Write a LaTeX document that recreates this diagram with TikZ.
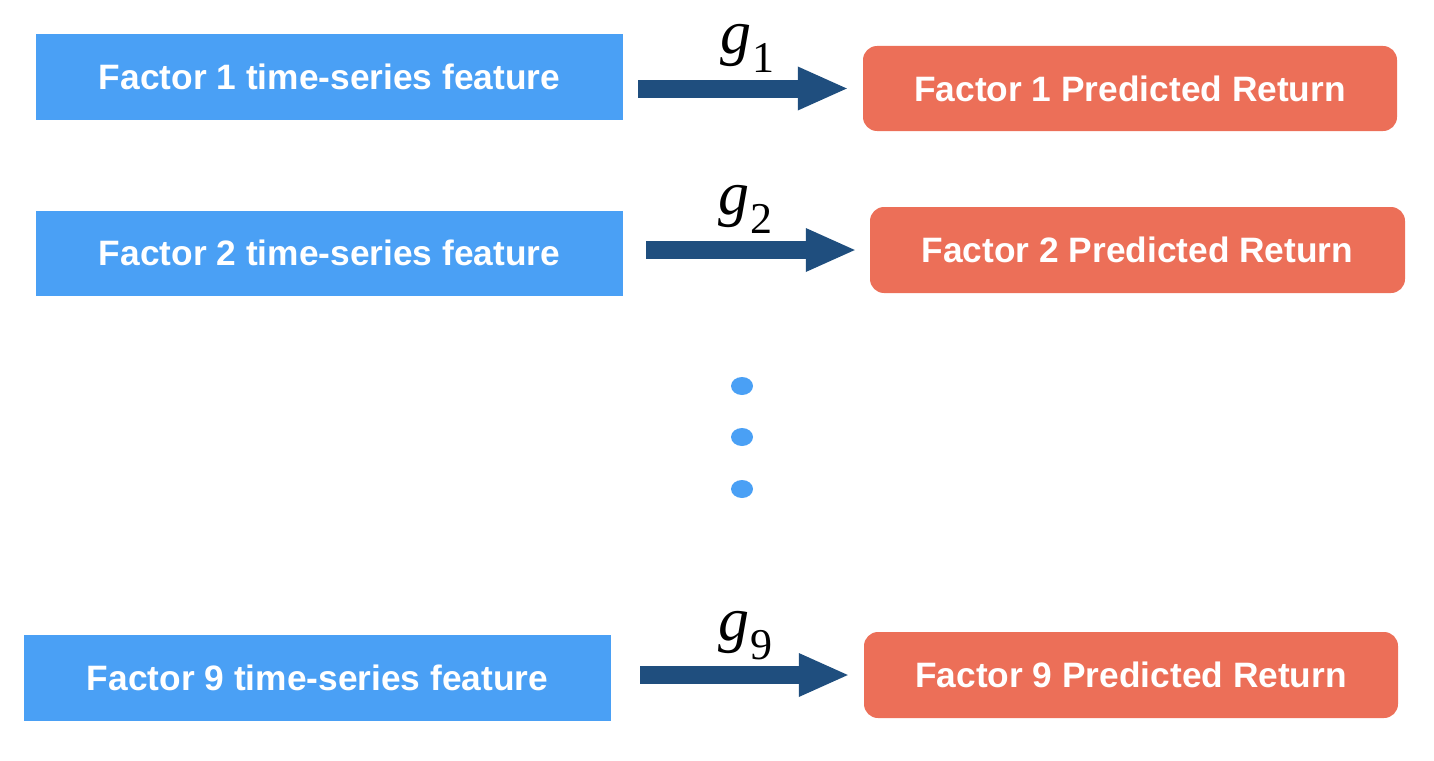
\documentclass[tikz,border=0pt]{standalone}
\usepackage{fontspec}
\newfontfamily\boxfont{Liberation Sans}
\newfontfamily\gfont{Liberation Serif}
\usetikzlibrary{arrows.meta,shapes.geometric}
\definecolor{featblue}{HTML}{4AA0F5}
\definecolor{retred}{HTML}{EC6F58}
\definecolor{arrowblue}{HTML}{1F4E7E}
\tikzset{
  featbox/.style={rectangle, fill=featblue, minimum width=587pt, minimum height=85pt, inner sep=0pt,
    text=white, font=\boxfont\bfseries\fontsize{35.3}{40}\selectfont},
  retbox/.style={rectangle, rounded corners=14pt, fill=retred, minimum width=534pt, minimum height=85pt, inner sep=0pt,
    text=white, font=\boxfont\bfseries\fontsize{35.3}{40}\selectfont},
  bigarrow/.style={draw=arrowblue, line width=18pt,
    -{Triangle[length=49pt,width=44pt,line width=0pt 0 0,fill=arrowblue]}},
  glabel/.style={anchor=base, inner sep=0pt, font=\gfont\fontsize{62}{70}\selectfont},
  dot/.style={ellipse, fill=featblue, minimum width=22pt, minimum height=18pt, inner sep=0pt}
}
\newcommand{\gsub}[1]{\textit{g}\hspace{1pt}\raisebox{-19pt}{\fontsize{44}{48}\selectfont #1}}
\begin{document}
\begin{tikzpicture}[x=1pt,y=-1pt]
\useasboundingbox (0,0) rectangle (1434,760);
% feature boxes
\node[featbox] (B1) at (329.5,77) {Factor 1 time-series feature};
\node[featbox] (B2) at (329.5,253) {Factor 2 time-series feature};
\node[featbox, minimum height=86pt] (B3) at (317.5,677.5) {Factor 9 time-series feature};
% return boxes
\node[retbox] (R1) at (1130,88.5) {Factor 1 Predicted Return};
\node[retbox, minimum width=535pt, minimum height=86pt] (R2) at (1137.5,250) {Factor 2 Predicted Return};
\node[retbox, minimum height=86pt] (R3) at (1131,675) {Factor 9 Predicted Return};
% arrows
\draw[bigarrow, shorten <=15pt, shorten >=16pt] (B1.east |- R1.west) -- (R1.west);
\draw[bigarrow, shorten <=23pt, shorten >=15pt] (B2.east |- R2.west) -- (R2.west);
\draw[bigarrow, shorten <=29pt, shorten >=16pt] (B3.east |- R3.west) -- (R3.west);
% labels
\node[glabel] (g1) at (747,53) {\gsub{1}};
\node[glabel] (g2) at (745,214) {\gsub{2}};
\node[glabel] (g9) at (745,640) {\gsub{9}};
% dots
\node[dot] (d1) at (742,386) {};
\node[dot] (d2) at (742,437) {};
\node[dot] (d3) at (742,489) {};
\end{tikzpicture}
\end{document}
